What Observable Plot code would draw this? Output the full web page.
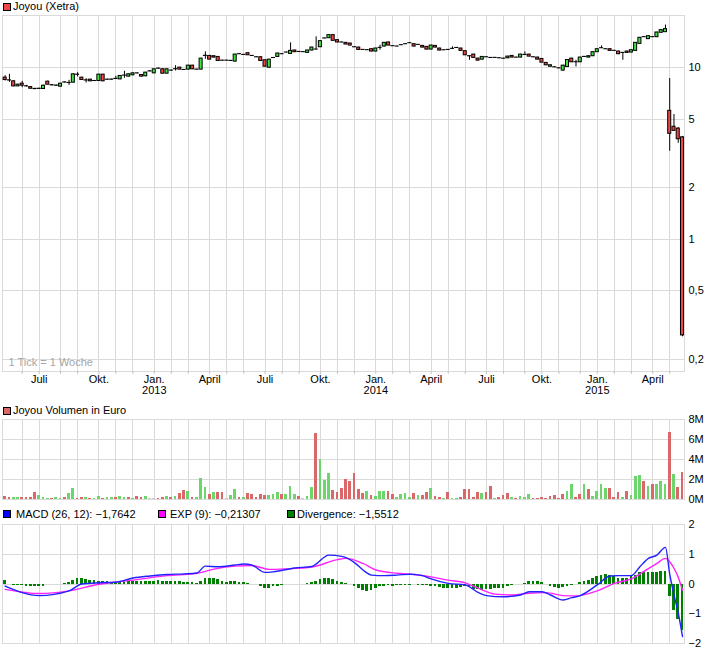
<!DOCTYPE html>
<html>
<head>
<meta charset="utf-8">
<script src="https://cdn.jsdelivr.net/npm/d3@7"></script>
<script src="https://cdn.jsdelivr.net/npm/@observablehq/plot@0.6"></script>
<style>
html,body{margin:0;padding:0;background:#fff;}
#chart{position:relative;width:726px;height:652px;overflow:hidden;font-family:"Liberation Sans",Arial,sans-serif;font-size:11px;color:#000;}
.pane{position:absolute;left:0;}
.sw{position:absolute;width:6px;height:6px;border:1px solid #000;}
.lg{position:absolute;line-height:11px;white-space:nowrap;}
</style>
</head>
<body>
<div id="chart"></div>
<script>
// ---------- data (weekly, first week starting Monday 2012-04-30) ----------
const firstWeek = "2012-04-30";
const open = [
 8.76,8.45,8.34,7.79,8.08,7.80,7.72,7.53,7.53,7.52,
 8.30,7.92,7.88,7.76,8.20,8.15,8.19,9.10,8.76,8.45,
 8.53,8.38,8.37,9.12,8.53,8.52,8.60,8.56,9.00,8.88,
 9.04,9.28,9.08,8.92,9.52,9.28,9.88,9.80,9.24,9.62,
 9.80,10.02,9.72,9.76,10.29,9.76,9.76,11.73,11.73,11.68,
 11.57,11.01,11.00,10.98,10.87,12.00,11.90,12.16,11.73,11.52,
 11.52,11.06,10.01,11.40,11.57,12.00,12.27,12.05,12.61,12.38,
 12.33,12.22,12.61,12.78,13.18,14.82,14.88,15.50,14.49,14.05,
 13.98,13.85,13.18,13.12,12.72,12.66,12.83,12.44,13.06,13.30,
 14.05,13.37,13.30,13.54,13.73,13.91,13.73,13.60,13.42,13.24,
 12.77,13.42,12.95,12.66,12.71,12.89,13.06,12.95,12.50,11.68,
 11.94,11.31,11.16,11.52,11.42,11.42,11.36,11.31,11.36,11.73,
 11.47,11.47,11.89,11.94,11.52,11.47,11.26,10.68,10.15,10.07,
 9.93,9.63,10.11,11.31,10.77,10.77,11.57,11.47,11.68,12.33,
 13.00,12.83,12.83,12.55,12.44,12.22,12.44,12.27,12.55,13.79,
 15.08,14.69,15.08,15.08,16.00,16.13,5.61,4.53,4.42,3.93];
const high = [
 9.00,9.16,8.40,8.02,8.34,7.90,7.76,7.60,7.60,7.92,
 8.35,7.97,7.92,8.12,8.28,8.45,9.22,9.37,8.80,8.64,
 8.57,8.42,9.16,9.16,8.58,8.58,8.92,9.00,9.54,9.20,
 9.35,9.33,9.12,9.41,9.60,9.86,9.95,9.85,9.85,9.70,
 10.29,10.06,9.77,10.34,10.34,9.81,11.36,12.38,11.78,11.73,
 11.62,11.06,11.06,11.02,11.98,12.06,11.95,12.20,11.78,11.57,
 11.57,11.10,11.20,11.47,12.16,12.06,12.33,13.98,12.66,12.43,
 12.38,12.66,13.18,15.15,14.36,14.90,15.56,15.56,14.55,14.10,
 14.04,13.90,13.24,13.18,12.77,12.72,12.88,13.00,13.54,14.04,
 14.10,13.42,13.36,13.60,13.78,13.98,13.78,13.67,13.48,13.30,
 13.54,13.48,13.00,12.72,12.77,13.24,13.12,13.00,12.55,11.73,
 11.99,11.36,11.62,11.57,11.47,11.47,11.42,11.36,11.68,11.78,
 11.52,11.99,12.38,11.99,11.57,11.52,11.31,10.72,10.38,10.11,
 9.97,10.34,11.16,11.36,11.06,11.52,11.62,11.73,12.38,12.89,
 13.42,12.89,12.89,12.61,12.50,12.28,12.50,12.72,14.04,15.02,
 15.15,15.36,15.15,16.12,16.65,17.74,8.65,5.34,4.48,3.98];
const low = [
 8.37,8.22,7.74,7.76,7.65,7.72,7.52,7.46,7.48,7.48,
 7.95,7.84,7.80,7.72,8.15,7.90,8.15,8.84,8.45,8.15,
 8.30,8.33,8.33,8.30,8.48,8.48,8.54,8.52,8.68,8.84,
 9.00,9.22,8.84,8.88,9.47,9.24,9.83,9.20,9.20,9.57,
 9.58,9.72,9.66,9.72,9.76,9.70,9.72,11.21,11.12,11.42,
 10.92,10.96,10.96,10.92,10.82,11.94,11.83,11.80,11.68,11.47,
 10.92,10.11,9.97,11.36,11.52,11.95,12.22,12.00,12.28,12.33,
 12.28,12.16,12.55,12.72,13.12,14.76,14.82,14.30,14.00,13.99,
 13.62,13.42,13.12,12.66,12.66,12.61,12.38,12.38,12.66,13.24,
 13.42,13.30,13.24,13.48,13.67,13.85,13.24,13.54,13.06,12.72,
 12.72,13.06,12.55,12.61,12.66,12.83,13.00,12.50,11.78,11.06,
 11.36,10.96,11.10,11.47,11.36,11.36,11.31,11.26,11.31,11.42,
 11.42,11.42,11.83,11.57,11.47,11.10,10.67,10.29,10.11,10.01,
 9.88,9.58,10.06,10.72,10.11,10.72,11.52,11.42,11.62,12.28,
 12.95,12.77,12.50,12.50,11.94,11.06,12.16,12.22,12.50,13.73,
 15.02,14.63,15.02,15.02,15.95,16.06,3.26,4.25,3.63,0.27];
const close = [
 8.49,8.43,7.79,7.97,7.86,7.79,7.55,7.51,7.55,7.86,
 7.97,7.90,7.86,8.08,8.22,8.16,9.16,9.12,8.49,8.43,
 8.34,8.37,9.12,8.34,8.52,8.54,8.62,8.96,9.01,9.16,
 9.28,9.27,8.88,9.37,9.54,9.80,9.89,9.24,9.80,9.63,
 9.81,9.76,9.71,10.29,9.80,9.75,11.31,11.75,11.16,11.47,
 10.96,11.00,11.01,10.96,11.94,12.01,11.88,11.83,11.72,11.51,
 10.96,10.15,11.16,11.41,12.11,12.01,12.28,12.55,12.33,12.37,
 12.34,12.61,13.12,12.77,14.30,14.83,15.50,14.36,14.05,14.04,
 13.67,13.48,13.17,12.71,12.71,12.67,12.44,12.95,13.07,13.98,
 13.48,13.36,13.31,13.55,13.72,13.92,13.30,13.61,13.12,12.77,
 13.48,13.12,12.61,12.65,12.72,12.90,13.05,12.55,11.83,11.67,
 11.42,11.01,11.57,11.51,11.41,11.43,11.37,11.30,11.62,11.47,
 11.46,11.94,11.88,11.62,11.51,11.16,10.72,10.34,10.34,10.06,
 9.92,10.29,11.10,10.77,10.78,11.47,11.58,11.68,12.33,12.83,
 13.01,12.82,12.55,12.56,12.00,12.21,12.22,12.66,13.98,14.96,
 15.09,15.29,15.09,16.06,16.58,16.81,4.12,4.29,3.83,0.275];

// weekly turnover in million euro, and its direction (g = up, r = down, n = unchanged)
const volume = [
 0.3,0.2,0.2,0.2,0.2,0.2,0.2,0.7,0.4,0.2,
 0.1,0.1,0.2,0.1,0.2,0.6,1.1,0.1,0.2,0.2,
 0.1,0.1,0.3,0.1,0.2,0.2,0.2,0.3,0.2,0.2,
 0.1,0.3,0.2,0.3,0.1,0.1,0.1,0.2,0.3,0.2,
 0.3,0.6,0.9,0.8,0.2,0.2,2.1,1.2,0.5,0.7,
 0.7,0.7,0.1,0.4,1.0,0.2,0.2,0.6,0.5,0.2,
 0.5,0.4,0.4,0.5,0.7,0.5,0.5,1.3,0.5,0.3,
 0.1,0.3,1.2,6.6,4.0,1.9,2.6,0.9,0.7,1.1,
 2.0,1.8,2.6,1.0,0.6,0.8,0.4,0.3,0.8,0.8,
 0.8,0.5,0.2,0.5,0.6,0.2,0.6,0.4,0.4,0.7,
 1.1,0.3,0.2,0.1,0.7,0.1,0.1,0.2,1.0,1.0,
 0.2,0.7,0.6,0.7,1.3,0.1,0.2,0.4,0.6,0.2,
 0.1,0.3,0.2,0.5,0.1,0.1,0.2,0.1,0.3,0.4,
 0.1,0.5,0.8,1.5,0.2,0.5,1.5,1.0,0.3,0.8,
 1.5,1.1,1.1,0.2,0.7,0.2,0.8,0.4,2.3,2.4,
 1.8,1.3,1.5,1.5,1.8,1.5,6.7,2.5,1.2,2.7];
const volumeDirection =
 "rrggrrrrgggrggrggrrgrggrggrggrgrrgnnrrgrgrrgrgggrgrrnggrgrrrrrgggrgggrnggrgggrrrrrrrr" +
 "grgggrrggggrgrrgrrgrggrrrrrgrrgrrrgrgggrrrrrrrrggrrgrggggrrrgrgggrgrgggrgrr";

// MACD (26,12) line, signal EXP (9) line: [week index, value]
const macdWeek  = [0,8,15,18,22,26,30,34,38,42,45,47,50,54,56,58,61,63,68,72,76,79,82,84,86,89,92,95,98,100,104,108,111,113,117,121,123,126,128,131,133,135,139,142,144,147,149,151,153,155,156,157,158,159];
const macdValue = [-0.07,-0.39,-0.23,0.0,0.04,0.06,0.2,0.27,0.32,0.34,0.37,0.6,0.58,0.64,0.67,0.63,0.39,0.41,0.54,0.59,0.97,0.93,0.72,0.47,0.30,0.28,0.30,0.33,0.28,0.17,0.02,-0.03,-0.28,-0.39,-0.43,-0.37,-0.26,-0.26,-0.37,-0.54,-0.46,-0.39,-0.03,0.27,0.28,0.28,0.58,0.86,0.97,1.23,0.33,-0.37,-0.97,-1.7642];
const signalWeek  = [0,8,15,22,30,38,45,49,54,58,62,66,72,78,80,84,87,92,96,100,104,108,111,115,119,123,127,131,134,139,143,147,151,153,155,156,157,158,159];
const signalValue = [-0.18,-0.32,-0.23,-0.01,0.13,0.28,0.36,0.5,0.6,0.62,0.49,0.51,0.57,0.82,0.86,0.69,0.47,0.36,0.32,0.24,0.13,0.04,-0.14,-0.34,-0.37,-0.31,-0.29,-0.39,-0.4,-0.23,0.02,0.17,0.52,0.69,0.86,0.75,0.53,0.23,-0.21307];
const divergence = [
 0.12,-0.01,-0.05,-0.05,-0.06,-0.08,-0.09,-0.09,-0.10,-0.08,
 -0.03,-0.02,-0.02,0.00,0.02,0.05,0.13,0.18,0.17,0.14,
 0.12,0.12,0.10,0.08,0.07,0.06,0.06,0.06,0.08,0.07,
 0.08,0.10,0.08,0.07,0.07,0.10,0.12,0.10,0.08,0.08,
 0.08,0.07,0.06,0.06,0.04,0.03,0.07,0.18,0.20,0.20,
 0.15,0.10,0.06,0.07,0.08,0.06,0.06,0.03,0.00,-0.02,
 -0.10,-0.16,-0.14,-0.10,-0.07,-0.05,-0.03,-0.03,-0.03,-0.02,
 -0.02,0.02,0.04,0.07,0.14,0.19,0.17,0.14,0.10,0.06,
 0.03,-0.02,-0.07,-0.15,-0.22,
 -0.25,-0.23,-0.15,-0.10,-0.07,-0.06,-0.08,-0.06,-0.05,-0.04,
 -0.04,-0.03,-0.04,-0.04,-0.06,-0.08,-0.10,-0.13,-0.15,-0.16,
 -0.16,-0.14,-0.12,-0.10,-0.13,-0.17,-0.20,-0.22,-0.18,-0.17,
 -0.16,-0.16,-0.14,-0.10,-0.06,-0.03,-0.01,0.03,0.07,0.09,
 0.08,0.04,-0.02,-0.08,-0.12,-0.14,-0.13,-0.10,-0.04,-0.01,
 0.04,0.08,0.13,0.20,0.25,0.30,0.32,0.30,0.25,0.20,
 0.17,0.20,0.25,0.30,0.37,0.40,0.40,0.38,0.40,0.43,
 0.43,-0.42,-0.90,-1.20,-1.5512];

// axes
const priceTicks = [0.2, 0.5, 1, 2, 5, 10];
const volumeTicks = [0, 2, 4, 6, 8];
const macdTicks = [-2, -1, 0, 1, 2];
const monthNames = ["Jan.", "", "", "April", "", "", "Juli", "", "", "Okt.", "", ""];
const gridStart = "2012-06-01", gridEnd = "2015-06-01";

const legendPrice = "Joyou (Xetra)";
const legendVolume = "Joyou Volumen in Euro";
const legendMacd = ["MACD (26, 12): \u22121,7642", "EXP (9): \u22120,21307", "Divergence: \u22121,5512"];
const tickNote = "1 Tick = 1 Woche";

// ---------- build ----------
const W = 726;
const weekDate = i => d3.utcDay.offset(new Date(firstWeek + "T00:00Z"), 7 * i);
const xDomain = [new Date("2012-04-25T15:00Z"), new Date("2015-05-21T07:00Z")];
const UP = "#44e044", DOWN = "#f04646";
const VUP = "#6cd66c", VDOWN = "#da6868", VFLAT = "#c8c8c8";
const GRID = "#dadada";

const candles = open.map((o, i) => ({date: weekDate(i), open: o, high: high[i], low: low[i], close: close[i]}));
const vols = volume.map((v, i) => ({date: weekDate(i), value: v, dir: volumeDirection[i]}));
const macdPts = macdWeek.map((w, i) => ({date: weekDate(w), value: macdValue[i]}));
const sigPts = signalWeek.map((w, i) => ({date: weekDate(w), value: signalValue[i]}));
const divPts = divergence.map((v, i) => ({date: weekDate(i), value: v}));

const monthStarts = d3.utcMonth.range(new Date(gridStart + "T00:00Z"), new Date(gridEnd + "T00:00Z"));
const monthGrid = monthStarts.map(m => d3.utcMonday.floor(m));
const labelMap = new Map();
monthStarts.forEach((m, i) => {
  const name = monthNames[m.getUTCMonth()];
  if (name) labelMap.set(+monthGrid[i], m.getUTCMonth() === 0 ? name + "\n" + m.getUTCFullYear() : name);
});
const labelDates = monthGrid.filter(d => labelMap.has(+d));

const style = {fontFamily: "'Liberation Sans', Arial, sans-serif", fontSize: "11px", background: "transparent", color: "#000", overflow: "visible"};
const common = {width: W, marginLeft: 2, marginRight: 42, style, color: {type: "identity"}};
const half = (d, h) => d3.utcHour.offset(d, h);
const crisp = {shapeRendering: "crispEdges"};

const pricePlot = Plot.plot({
  ...common, height: 400, marginTop: 15, marginBottom: 29,
  x: {type: "utc", domain: xDomain},
  y: {type: "log", domain: [0.1694, 20.18]},
  marks: [
    Plot.gridX(monthGrid, {stroke: GRID, strokeOpacity: 1, ...crisp}),
    Plot.gridY(priceTicks, {stroke: GRID, strokeOpacity: 1, ...crisp}),
    Plot.frame({stroke: GRID, ...crisp}),
    Plot.axisX(monthGrid, {tickSize: 3, stroke: "#c4c4c4", tickFormat: () => "", label: null}),
    Plot.axisX(labelDates, {tickSize: 0, tickPadding: 4, tickFormat: d => labelMap.get(+d), fill: "#000", label: null}),
    Plot.axisY(priceTicks, {anchor: "right", tickSize: 0, tickPadding: 4, tickFormat: d => String(d).replace(".", ","), fill: "#000", label: null}),
    Plot.text([tickNote], {text: d => d, frameAnchor: "bottom-left", dx: 6, dy: -6, textAnchor: "start", fill: "#a6a6a6"}),
    Plot.ruleX(candles, {x: "date", y1: "low", y2: "high", stroke: "#000"}),
    Plot.rect(candles, {x1: d => half(d.date, -60), x2: d => half(d.date, 60), y1: "open", y2: "close",
      fill: d => d.close > d.open ? UP : d.close < d.open ? DOWN : "#fff", stroke: "#000"})
  ]
});

const volPlot = Plot.plot({
  ...common, height: 100, marginTop: 19, marginBottom: 1,
  x: {type: "utc", domain: xDomain, axis: null},
  y: {domain: [0, 8], axis: null},
  marks: [
    Plot.gridX(monthGrid, {stroke: GRID, strokeOpacity: 1, ...crisp}),
    Plot.gridY(volumeTicks, {stroke: GRID, strokeOpacity: 1, ...crisp}),
    Plot.frame({stroke: GRID, ...crisp}),
    Plot.axisY(volumeTicks, {anchor: "right", tickSize: 0, tickPadding: 4, tickFormat: d => d + "M", fill: "#000", label: null}),
    Plot.rect(vols, {x1: d => half(d.date, -54), x2: d => half(d.date, 54), y1: d => 0, y2: "value",
      fill: d => d.dir === "g" ? VUP : d.dir === "r" ? VDOWN : VFLAT, ...crisp})
  ]
});

const macdPlot = Plot.plot({
  ...common, height: 152, marginTop: 24, marginBottom: 9,
  x: {type: "utc", domain: xDomain, axis: null},
  y: {domain: [-2, 2], axis: null},
  marks: [
    Plot.gridX(monthGrid, {stroke: GRID, strokeOpacity: 1, ...crisp}),
    Plot.gridY(macdTicks, {stroke: GRID, strokeOpacity: 1, ...crisp}),
    Plot.frame({stroke: GRID, ...crisp}),
    Plot.axisY(macdTicks, {anchor: "right", tickSize: 0, tickPadding: 4, tickFormat: d => d < 0 ? "\u2212" + Math.abs(d) : String(d), fill: "#000", label: null}),
    Plot.rect(divPts, {x1: d => half(d.date, -54), x2: d => half(d.date, 54), y1: d => 0, y2: "value", fill: "#008000", ...crisp}),
    Plot.line(sigPts, {x: "date", y: "value", stroke: "#ff22ff", strokeWidth: 1.4, curve: "monotone-x"}),
    Plot.line(macdPts, {x: "date", y: "value", stroke: "#2222ff", strokeWidth: 1.4, curve: "monotone-x"})
  ]
});

const chart = document.getElementById("chart");
function pane(svg, top) {
  const d = document.createElement("div");
  d.className = "pane"; d.style.top = top + "px";
  d.appendChild(svg); chart.appendChild(d);
}
pane(pricePlot, 0);
pane(volPlot, 400);
pane(macdPlot, 500);

function legend(swX, swY, color, text, tx, ty) {
  const s = document.createElement("div");
  s.className = "sw"; s.style.left = swX + "px"; s.style.top = swY + "px"; s.style.background = color;
  chart.appendChild(s);
  const t = document.createElement("div");
  t.className = "lg"; t.style.left = tx + "px"; t.style.top = ty + "px"; t.textContent = text;
  chart.appendChild(t);
}
legend(3, 2.5, DOWN, legendPrice, 13, 1.3);
legend(3, 406.5, VDOWN, legendVolume, 13, 405.3);
legend(3, 510, "#0000ff", legendMacd[0], 16, 508.6);
legend(158, 510, "#ff00ff", legendMacd[1], 170, 508.6);
legend(287, 510, "#008000", legendMacd[2], 297, 508.6);
</script>
</body>
</html>
